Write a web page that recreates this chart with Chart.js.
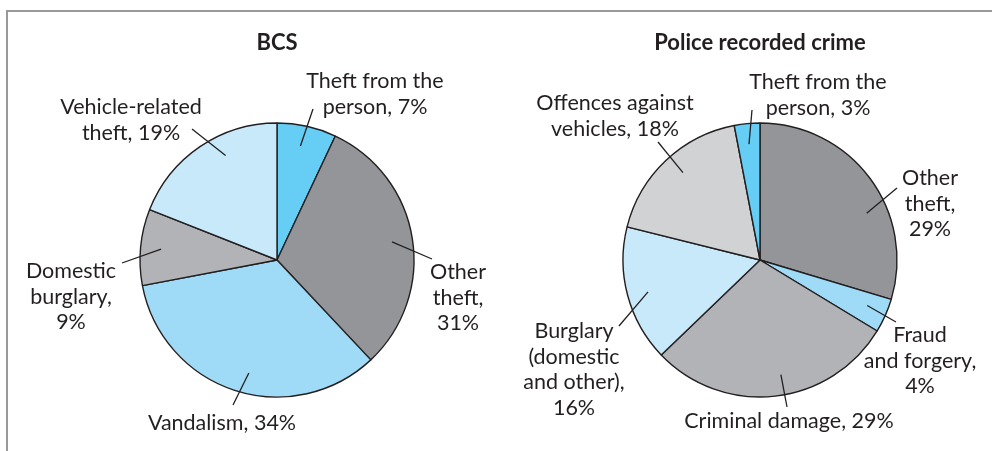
<!DOCTYPE html>
<html>
<head>
<meta charset="utf-8">
<script src="https://cdn.jsdelivr.net/npm/chart.js@4"></script>
<style>
  html, body { margin: 0; padding: 0; background: #fff; }
  #wrap { position: relative; width: 992px; height: 451px; overflow: hidden; }
  #frame { position: absolute; left: 6px; top: 10px; right: -4px; bottom: -4px;
           border-top: 2px solid #999; border-left: 2px solid #999; }
  canvas { position: absolute; left: 0; top: 0; }
</style>
</head>
<body>
<div id="wrap">
  <div id="frame"></div>
  <canvas id="bcsChart" width="992" height="451"></canvas>
  <canvas id="policeChart" width="992" height="451"></canvas>
</div>
<script>
// BCS
const bcsLabels = ['Theft from the person', 'Other theft', 'Vandalism', 'Domestic burglary', 'Vehicle-related theft'];
const bcsValues = [7, 31, 34, 9, 19];
const bcsText = [
  ['Theft from the', 'person, 7%'],
  ['Other', 'theft,', '31%'],
  ['Vandalism, 34%'],
  ['Domestic', 'burglary,', '9%'],
  ['Vehicle-related', 'theft, 19%']
];

// Police recorded crime
const policeLabels = ['Other theft', 'Fraud and forgery', 'Criminal damage', 'Burglary (domestic and other)', 'Offences against vehicles', 'Theft from the person'];
const policeValues = [29.5, 4, 29, 16, 18, 3];
const policeText = [
  ['Other', 'theft,', '29%'],
  ['Fraud', 'and forgery,', '4%'],
  ['Criminal damage, 29%'],
  ['Burglary', '(domestic', 'and other),', '16%'],
  ['Offences against', 'vehicles, 18%'],
  ['Theft from the', 'person, 3%']
];

const ink = '#231f20';
const bcsColors = ['#66cdf5', '#939598', '#9fdbf7', '#b1b3b6', '#c8e9f9'];
const policeColors = ['#939598', '#9fdbf7', '#b1b3b6', '#c8e9f9', '#d1d2d4', '#66cdf5'];

// label placement relative to pie centre: text (tx, ty first baseline), leader end (lx, ly), nudge of start angle in degrees
const bcsLayout = [
  { tx: 98, ty: -172, lx: 36, ly: -151, nudge: -1 },
  { tx: 181, ty: 19, lx: 155, ly: -1, nudge: 0 },
  { tx: -55, ty: 170, lx: -44, ly: 145, nudge: -4 },
  { tx: -206, ty: 18, lx: -155, ly: 3, nudge: 0 },
  { tx: -146, ty: -146, lx: -85, ly: -131, nudge: 8 }
];
const policeLayout = [
  { tx: 170, ty: -75, lx: 137, ly: -72, nudge: 13 },
  { tx: 160, ty: 82, lx: 136, ly: 62, nudge: -1 },
  { tx: 29, ty: 168, lx: 27, ly: 147, nudge: -4 },
  { tx: -186, ty: 78, lx: -141, ly: 66, nudge: -1 },
  { tx: -145, ty: -150, lx: -102, ly: -118, nudge: 2 },
  { tx: 58, ty: -171, lx: -8, ly: -150, nudge: 0 }
];

const textFont = '21.5px Lato';
const titleFont = 'bold 22px Lato';
const lineH = 25.5;

function makeCallouts(title, lines, layout) {
  return {
    id: 'callouts',
    afterDatasetsDraw(chart) {
      const ctx = chart.ctx;
      const arcs = chart.getDatasetMeta(0).data;
      const cx = arcs[0].x, cy = arcs[0].y;
      ctx.save();
      ctx.strokeStyle = ink;
      ctx.fillStyle = ink;
      ctx.lineWidth = 1.3;
      ctx.textAlign = 'center';
      ctx.textBaseline = 'alphabetic';
      arcs.forEach((arc, i) => {
        const p = arc.getProps(['startAngle', 'endAngle', 'outerRadius'], true);
        const lay = layout[i];
        const a = (p.startAngle + p.endAngle) / 2 + lay.nudge * Math.PI / 180;
        const r0 = p.outerRadius * 0.85;
        ctx.beginPath();
        ctx.moveTo(cx + Math.cos(a) * r0, cy + Math.sin(a) * r0);
        ctx.lineTo(cx + lay.lx, cy + lay.ly);
        ctx.stroke();
        ctx.font = textFont;
        lines[i].forEach((t, k) => ctx.fillText(t, cx + lay.tx, cy + lay.ty + k * lineH));
      });
      ctx.font = titleFont;
      ctx.fillText(title, cx, 50);
      ctx.restore();
    }
  };
}

function createPie(id, labels, values, colors, padding, plugin) {
  new Chart(document.getElementById(id), {
    type: 'pie',
    data: {
      labels: labels,
      datasets: [{
        data: values,
        backgroundColor: colors,
        borderColor: ink,
        borderWidth: 1.4,
        radius: 137
      }]
    },
    options: {
      responsive: false,
      animation: false,
      events: [],
      layout: { padding: padding },
      plugins: { legend: { display: false }, tooltip: { enabled: false }, title: { display: false } }
    },
    plugins: [plugin]
  });
}

createPie('bcsChart', bcsLabels, bcsValues, bcsColors,
  { left: 0, right: 438, top: 69, bottom: 0 },
  makeCallouts('BCS', bcsText, bcsLayout));
createPie('policeChart', policeLabels, policeValues, policeColors,
  { left: 528, right: 0, top: 69, bottom: 0 },
  makeCallouts('Police recorded crime', policeText, policeLayout));
</script>
</body>
</html>
